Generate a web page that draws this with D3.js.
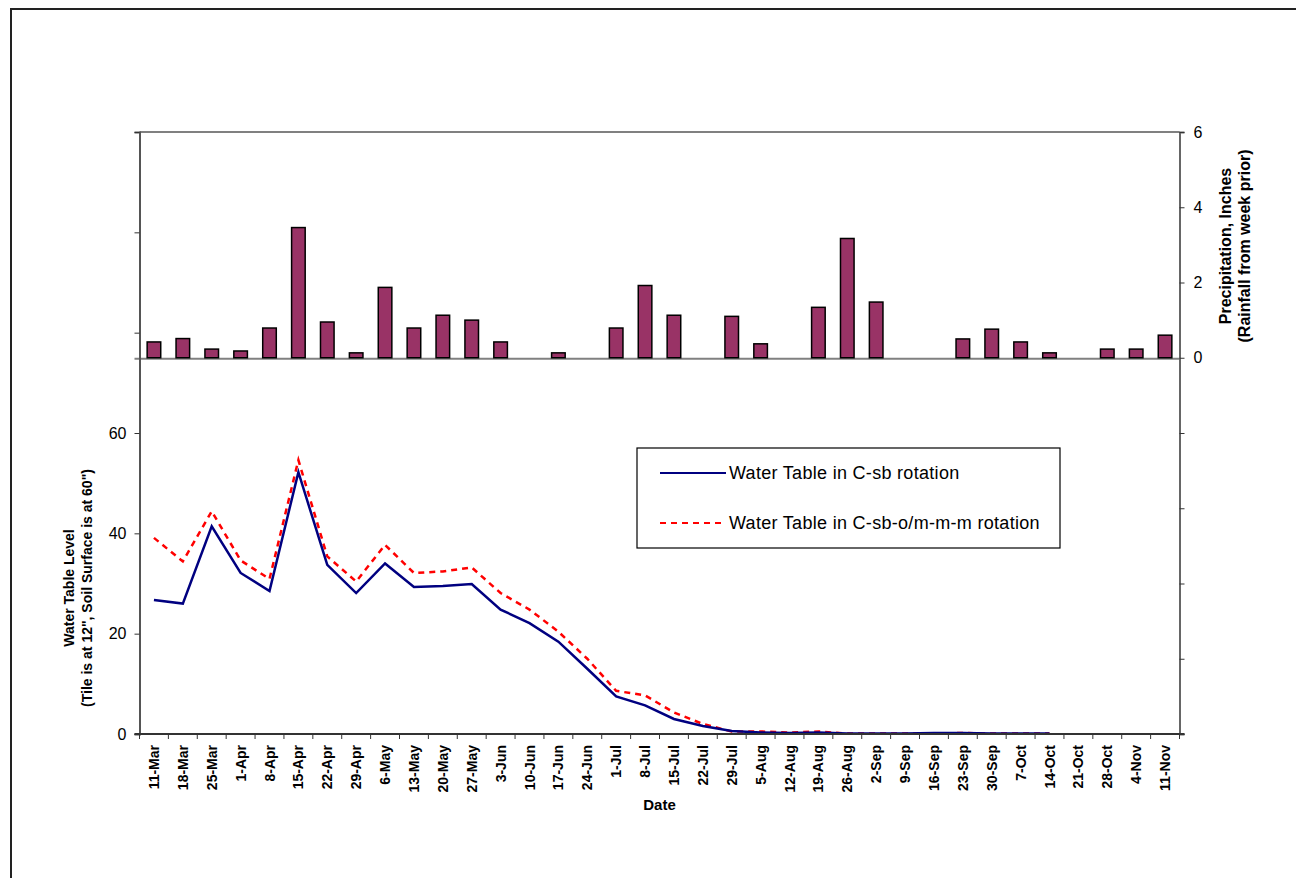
<!DOCTYPE html>
<html>
<head>
<meta charset="utf-8">
<script src="https://cdn.jsdelivr.net/npm/d3@7"></script>
<style>
  body { margin: 0; background: #fff; }
  svg { display: block; font-family: "Liberation Sans", Arial, sans-serif; }
</style>
</head>
<body>
<div id="chart"></div>
<script>
// weekly dates
var dates = ["11-Mar","18-Mar","25-Mar","1-Apr","8-Apr","15-Apr","22-Apr","29-Apr",
  "6-May","13-May","20-May","27-May","3-Jun","10-Jun","17-Jun","24-Jun",
  "1-Jul","8-Jul","15-Jul","22-Jul","29-Jul","5-Aug","12-Aug","19-Aug","26-Aug",
  "2-Sep","9-Sep","16-Sep","23-Sep","30-Sep","7-Oct","14-Oct","21-Oct","28-Oct",
  "4-Nov","11-Nov"];

// precipitation, inches (rainfall from week prior)
var rain = [0.42,0.51,0.23,0.18,0.79,3.46,0.95,0.13,1.87,0.79,1.13,1.00,0.42,0,0.13,0,
  0.79,1.92,1.13,0,1.10,0.37,0,1.34,3.17,1.48,0,0,0.50,0.76,0.42,0.13,0,0.23,0.23,0.60];

// water table, C-sb rotation
var wtCsb = [26.7,26.0,41.4,32.1,28.5,52.2,33.7,28.1,34.0,29.3,29.5,29.9,24.8,22.1,18.4,13.0,
  7.5,5.7,3.0,1.6,0.6,0.3,0.2,0.3,0.1,0.1,0.1,0.2,0.2,0.1,0.1,0.1,null,null,null,null];

// water table, C-sb-o/m-m-m rotation
var wtCsbOm = [39.1,34.4,44.4,34.6,30.9,54.6,35.4,30.4,37.7,32.1,32.4,33.2,28.1,24.8,20.4,15.0,
  8.6,7.7,4.3,2.0,0.5,0.5,0.3,0.5,0.1,0.1,0.1,0.1,0.2,0.1,0.1,0.1,null,null,null,null];

var leftTicks = [0,20,40,60,80,100,120];
var rightTicks = [-10,-8,-6,-4,-2,0,2,4,6];

var width = 1296, height = 878;
var margin = {top: 132, left: 139.5, bottom: 144, right: 116.5};
var plotW = width - margin.left - margin.right,
    plotH = height - margin.top - margin.bottom;

var svg = d3.select("#chart").append("svg")
    .attr("width", width)
    .attr("height", height);

// outer chart frame (runs off the right and bottom edges)
svg.append("rect")
    .attr("x", 11).attr("y", 9)
    .attr("width", 1400).attr("height", 1000)
    .attr("fill", "none")
    .attr("stroke", "#222")
    .attr("stroke-width", 2);

var g = svg.append("g")
    .attr("transform", "translate(" + [margin.left, margin.top] + ")");

var x = d3.scaleBand().domain(dates).range([0, plotW]);
var yL = d3.scaleLinear().domain([0, 120]).range([plotH, 0]);
var yR = d3.scaleLinear().domain([-10, 6]).range([plotH, 0]);

// plot area top border
g.append("line")
    .attr("x1", 0).attr("x2", plotW)
    .attr("y1", 0).attr("y2", 0)
    .attr("stroke", "#808080").attr("stroke-width", 2);

// secondary category axis at zero rainfall
g.append("line")
    .attr("x1", -5).attr("x2", plotW)
    .attr("y1", yR(0) + 1).attr("y2", yR(0) + 1)
    .attr("stroke", "#808080").attr("stroke-width", 2);

// rainfall bars
var barW = x.bandwidth() * 0.47;
g.append("g").attr("class", "bars")
    .selectAll("rect")
    .data(dates.map(function(d, i) { return {date: d, v: rain[i]}; }).filter(function(d) { return d.v > 0; }))
    .enter().append("rect")
    .attr("x", function(d) { return x(d.date) + (x.bandwidth() - barW) / 2; })
    .attr("y", function(d) { return yR(d.v); })
    .attr("width", barW)
    .attr("height", function(d) { return yR(0) - yR(d.v); })
    .attr("fill", "#993366")
    .attr("stroke", "#000")
    .attr("stroke-width", 1.5);

// water table lines
var line = d3.line()
    .defined(function(d) { return d.v != null; })
    .x(function(d) { return x(d.date) + x.bandwidth() / 2; })
    .y(function(d) { return yL(d.v); });

function series(vals) {
    return dates.map(function(d, i) { return {date: d, v: vals[i]}; });
}

g.append("path")
    .datum(series(wtCsbOm))
    .attr("d", line)
    .attr("fill", "none")
    .attr("stroke", "#ff0000")
    .attr("stroke-width", 2.5)
    .attr("stroke-dasharray", "6,5");

g.append("path")
    .datum(series(wtCsb))
    .attr("d", line)
    .attr("fill", "none")
    .attr("stroke", "#000080")
    .attr("stroke-width", 2.5);

// left axis
var leftAxis = g.append("g")
    .call(d3.axisLeft(yL).tickValues(leftTicks).tickSize(5).tickPadding(8)
        .tickFormat(function(d) { return d <= 60 ? d : ""; }));
leftAxis.select(".domain").attr("stroke", "#555").attr("stroke-width", 2);
leftAxis.selectAll(".tick line").attr("stroke", "#333");
leftAxis.selectAll("text").attr("font-size", 16).attr("fill", "#000")
    .attr("font-family", "Liberation Sans, Arial, sans-serif");

// right axis
var rightAxis = g.append("g")
    .attr("transform", "translate(" + plotW + ",0)")
    .call(d3.axisRight(yR).tickValues(rightTicks).tickSize(5).tickPadding(9)
        .tickFormat(function(d) { return d >= 0 ? d : ""; }));
rightAxis.select(".domain").attr("stroke", "#666").attr("stroke-width", 2);
rightAxis.selectAll(".tick line").attr("stroke", "#333");
rightAxis.selectAll("text").attr("font-size", 16).attr("fill", "#000")
    .attr("font-family", "Liberation Sans, Arial, sans-serif");

// bottom axis: ticks between categories
var bottom = g.append("g").attr("transform", "translate(0," + plotH + ")");
bottom.append("line")
    .attr("x1", -5).attr("x2", plotW + 5)
    .attr("stroke", "#333").attr("stroke-width", 2);
bottom.selectAll(".btick")
    .data(dates.concat(["end"]))
    .enter().append("line")
    .attr("class", "btick")
    .attr("x1", function(d, i) { return i * x.step(); })
    .attr("x2", function(d, i) { return i * x.step(); })
    .attr("y1", 0).attr("y2", 5)
    .attr("stroke", "#333");
bottom.selectAll(".blabel")
    .data(dates)
    .enter().append("text")
    .attr("class", "blabel")
    .attr("transform", function(d) {
        return "translate(" + (x(d) + x.bandwidth() / 2 + 5) + ",11) rotate(-90)";
    })
    .attr("text-anchor", "end")
    .attr("font-size", 14)
    .attr("font-weight", "bold")
    .text(function(d) { return d; });

// axis titles
svg.append("text")
    .attr("x", margin.left + plotW / 2)
    .attr("y", 810)
    .attr("text-anchor", "middle")
    .attr("font-size", 15)
    .attr("font-weight", "bold")
    .text("Date");

var leftTitle = svg.append("text")
    .attr("transform", "translate(74,588) rotate(-90)")
    .attr("text-anchor", "middle")
    .attr("font-size", 14)
    .attr("font-weight", "bold");
leftTitle.append("tspan").attr("x", 0).attr("dy", 0).text("Water Table Level");
leftTitle.append("tspan").attr("x", 0).attr("dy", 18).text("(Tile is at 12\", Soil Surface is at 60\")");

var rightTitle = svg.append("text")
    .attr("transform", "translate(1231,246) rotate(-90)")
    .attr("text-anchor", "middle")
    .attr("font-size", 16)
    .attr("font-weight", "bold");
rightTitle.append("tspan").attr("x", 0).attr("dy", 0).text("Precipitation, Inches");
rightTitle.append("tspan").attr("x", 0).attr("dy", 19).text("(Rainfall from week prior)");

// legend
var legend = svg.append("g").attr("transform", "translate(637,448)");
legend.append("rect")
    .attr("width", 423).attr("height", 100)
    .attr("fill", "#fff")
    .attr("stroke", "#000").attr("stroke-width", 1.2);
var legendItems = [
    {label: "Water Table in C-sb rotation", color: "#000080", dash: null, x2: 89, y: 25},
    {label: "Water Table in C-sb-o/m-m-m rotation", color: "#ff0000", dash: "6,5", x2: 84, y: 75}
];
legendItems.forEach(function(item) {
    legend.append("line")
        .attr("x1", 23).attr("x2", item.x2)
        .attr("y1", item.y).attr("y2", item.y)
        .attr("stroke", item.color)
        .attr("stroke-width", 2)
        .attr("stroke-dasharray", item.dash);
    legend.append("text")
        .attr("x", 92).attr("y", item.y + 6)
        .attr("font-size", 18)
        .attr("letter-spacing", 0.3)
        .text(item.label);
});
</script>
</body>
</html>
